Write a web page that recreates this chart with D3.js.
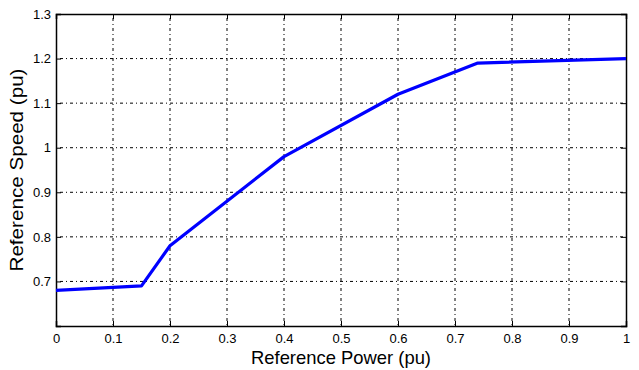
<!DOCTYPE html>
<html>
<head>
<meta charset="utf-8">
<script src="https://cdn.jsdelivr.net/npm/d3@7"></script>
<style>
  body { margin: 0; background: #fff; }
  text { font-family: "Liberation Sans", Arial, sans-serif; }
</style>
</head>
<body>
<div id="chart"></div>
<script>
// chart data
const powerValues = [0, 0.15, 0.2, 0.4, 0.6, 0.74, 1];
const speedValues = [0.68, 0.69, 0.78, 0.98, 1.12, 1.19, 1.2];
const xTicks = [0, 0.1, 0.2, 0.3, 0.4, 0.5, 0.6, 0.7, 0.8, 0.9, 1];
const yTicks = [0.7, 0.8, 0.9, 1, 1.1, 1.2, 1.3];

const svgWidth = 639;
const svgHeight = 370;
const margin = { top: 14, right: 13, bottom: 44, left: 56 };
const chartWidth = svgWidth - margin.left - margin.right;
const chartHeight = svgHeight - margin.top - margin.bottom;

const svg = d3.select("#chart")
  .append("svg")
  .attr("width", svgWidth)
  .attr("height", svgHeight);

const chartGroup = svg.append("g")
  .attr("transform", `translate(${margin.left}, ${margin.top})`);

const xScale = d3.scaleLinear().domain([0, 1]).range([0, chartWidth]);
const yScale = d3.scaleLinear().domain([0.6, 1.3]).range([chartHeight, 0]);

// grid lines
chartGroup.append("g")
  .selectAll("line")
  .data(xTicks.slice(1, -1))
  .enter()
  .append("line")
  .attr("x1", d => xScale(d)).attr("x2", d => xScale(d))
  .attr("y1", 0).attr("y2", chartHeight)
  .attr("stroke", "#000")
  .attr("stroke-width", 1)
  .attr("stroke-dasharray", "1,3,3,3");

chartGroup.append("g")
  .selectAll("line")
  .data(yTicks.slice(0, -1))
  .enter()
  .append("line")
  .attr("y1", d => yScale(d)).attr("y2", d => yScale(d))
  .attr("x1", 0).attr("x2", chartWidth)
  .attr("stroke", "#000")
  .attr("stroke-width", 1)
  .attr("stroke-dasharray", "1,3,3,3");

// axes
const bottomAxis = d3.axisBottom(xScale)
  .tickValues(xTicks)
  .tickSize(-5)
  .tickPadding(8)
  .tickFormat(d3.format("~g"));
const leftAxis = d3.axisLeft(yScale)
  .tickValues(yTicks)
  .tickSize(-5)
  .tickPadding(5)
  .tickFormat(d3.format("~g"));
const topAxis = d3.axisTop(xScale).tickValues(xTicks).tickSize(-5).tickFormat("");
const rightAxis = d3.axisRight(yScale).tickValues(yTicks).tickSize(-5).tickFormat("");

chartGroup.append("g")
  .attr("transform", `translate(0, ${chartHeight})`)
  .call(bottomAxis);
chartGroup.append("g").call(leftAxis);
chartGroup.append("g").call(topAxis);
chartGroup.append("g").attr("transform", `translate(${chartWidth}, 0)`).call(rightAxis);

chartGroup.selectAll(".domain").attr("stroke", "#000").attr("stroke-width", 1.5);
chartGroup.selectAll(".tick text").attr("font-size", 13).attr("fill", "#000");

// data line
const line = d3.line()
  .x((d, i) => xScale(powerValues[i]))
  .y(d => yScale(d));

chartGroup.append("path")
  .datum(speedValues)
  .attr("d", line)
  .attr("fill", "none")
  .attr("stroke", "#0000ff")
  .attr("stroke-width", 3.2)
  .attr("stroke-linejoin", "round");

// axis labels
svg.append("text")
  .attr("x", margin.left + chartWidth / 2)
  .attr("y", 364)
  .attr("text-anchor", "middle")
  .attr("font-size", 19)
  .attr("textLength", 180)
  .attr("lengthAdjust", "spacingAndGlyphs")
  .text("Reference Power (pu)");

svg.append("text")
  .attr("transform", "rotate(-90)")
  .attr("x", -(margin.top + chartHeight / 2))
  .attr("y", 23)
  .attr("text-anchor", "middle")
  .attr("font-size", 19)
  .attr("textLength", 203)
  .attr("lengthAdjust", "spacingAndGlyphs")
  .text("Reference Speed (pu)");
</script>
</body>
</html>
